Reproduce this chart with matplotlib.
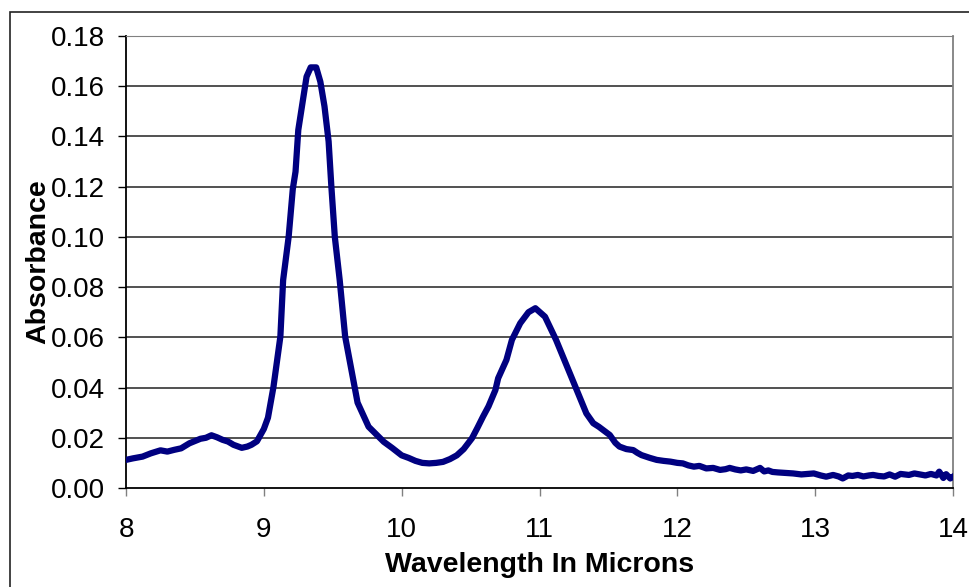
import matplotlib
matplotlib.use('Agg')
import matplotlib.pyplot as plt
from matplotlib.patches import Rectangle

# wavelength (microns) and absorbance
wavelength = [8.00, 8.05, 8.12, 8.18, 8.25, 8.30, 8.35, 8.40, 8.46, 8.54, 8.58, 8.62, 8.66, 8.70,
              8.74, 8.78, 8.84, 8.88, 8.91, 8.95, 9.00, 9.03, 9.07, 9.12, 9.14, 9.18, 9.21, 9.23,
              9.25, 9.31, 9.34, 9.38, 9.41, 9.44, 9.47, 9.49, 9.515, 9.55, 9.59, 9.64, 9.68, 9.76,
              9.87, 9.93, 10.00, 10.05, 10.10, 10.15, 10.20, 10.25, 10.30, 10.35, 10.40, 10.45,
              10.51, 10.55, 10.59, 10.63, 10.68, 10.70, 10.76, 10.80, 10.86, 10.92, 10.97, 11.04,
              11.12, 11.20, 11.28, 11.34, 11.39, 11.43, 11.51, 11.55, 11.58, 11.63, 11.68, 11.71,
              11.74, 11.80, 11.85, 11.90, 11.95, 12.00, 12.04, 12.08, 12.12, 12.16, 12.21, 12.26,
              12.31, 12.35, 12.38, 12.42, 12.46, 12.50, 12.55, 12.60, 12.63, 12.66, 12.69, 12.73,
              12.78, 12.84, 12.90, 12.95, 12.99, 13.04, 13.08, 13.13, 13.17, 13.20, 13.24, 13.27,
              13.31, 13.35, 13.39, 13.42, 13.46, 13.50, 13.54, 13.58, 13.62, 13.68, 13.72, 13.76,
              13.80, 13.84, 13.88, 13.90, 13.93, 13.95, 13.98, 14.00]
absorbance = [0.0112, 0.0118, 0.0125, 0.0138, 0.0150, 0.0145, 0.0152, 0.0158, 0.0178, 0.0196,
              0.0200, 0.0210, 0.0202, 0.0192, 0.0185, 0.0172, 0.0160, 0.0165, 0.0172, 0.0186,
              0.0235, 0.0280, 0.0403, 0.0603, 0.0828, 0.1000, 0.1190, 0.1260, 0.1426, 0.1638,
              0.1675, 0.1675, 0.1618, 0.1520, 0.1380, 0.1200, 0.1000, 0.0830, 0.0603, 0.0457,
              0.0340, 0.0244, 0.0184, 0.0160, 0.0130, 0.0120, 0.0108, 0.0100, 0.0098, 0.0100,
              0.0104, 0.0115, 0.0130, 0.0155, 0.0198, 0.0240, 0.0284, 0.0325, 0.0390, 0.0437,
              0.0510, 0.0590, 0.0656, 0.0700, 0.0716, 0.0682, 0.0590, 0.0483, 0.0377, 0.0297,
              0.0258, 0.0244, 0.0211, 0.0180, 0.0165, 0.0155, 0.0151, 0.0140, 0.0131, 0.0120,
              0.0112, 0.0108, 0.0105, 0.0100, 0.0098, 0.0090, 0.0085, 0.0088, 0.0078, 0.0080,
              0.0072, 0.0075, 0.0080, 0.0074, 0.0070, 0.0074, 0.0068, 0.0080, 0.0066, 0.0070,
              0.0064, 0.0062, 0.0060, 0.0058, 0.0054, 0.0056, 0.0058, 0.0050, 0.0045, 0.0052,
              0.0046, 0.0038, 0.0050, 0.0048, 0.0052, 0.0046, 0.0050, 0.0052, 0.0048, 0.0046,
              0.0054, 0.0045, 0.0056, 0.0052, 0.0058, 0.0054, 0.0050, 0.0056, 0.0050, 0.0065,
              0.0040, 0.0055, 0.0038, 0.0045]

x_ticks = [8, 9, 10, 11, 12, 13, 14]
y_ticks = [0.00, 0.02, 0.04, 0.06, 0.08, 0.10, 0.12, 0.14, 0.16, 0.18]

plt.rcParams['font.family'] = ['Liberation Sans', 'DejaVu Sans']

fig = plt.figure(figsize=(9.7, 5.87), dpi=100)
ax = fig.add_axes([126/970, 1 - 488/587, (953 - 126)/970, (488 - 36)/587])

# outer chart border (only left and top edges visible)
fig.patches.append(Rectangle((10/970, -0.1), 1.2, 1 - 12/587 + 0.1, transform=fig.transFigure,
                             fill=False, edgecolor='#222222', lw=1.2, clip_on=False))

for y in y_ticks[1:]:
    ax.axhline(y, color='#222222', lw=1.1, zorder=1)

ax.plot(wavelength, absorbance, color='#000080', lw=4.5, solid_joinstyle='round', zorder=3)

ax.set_xlim(8, 14)
ax.set_ylim(0, 0.18)
ax.set_xticks(x_ticks)
ax.set_yticks(y_ticks)
ax.set_yticklabels([f'{v:.2f}' for v in y_ticks])

ax.spines['left'].set_color('black')
ax.spines['bottom'].set_color('black')
ax.spines['left'].set_linewidth(1.3)
ax.spines['bottom'].set_linewidth(1.3)
ax.spines['top'].set_color('#808080')
ax.spines['right'].set_color('#808080')
ax.spines['right'].set_linewidth(1.3)

ax.tick_params(axis='y', direction='out', length=6, width=1, color='black', pad=9, labelsize=20)
ax.tick_params(axis='x', direction='out', length=6, width=1, color='#808080', pad=15, labelsize=20)

ax.set_xlabel('Wavelength In Microns', fontsize=20.5, fontweight='bold', labelpad=6)
ax.set_ylabel('Absorbance', fontsize=20.5, fontweight='bold', labelpad=0)

fig.savefig('out.png', dpi=100)
